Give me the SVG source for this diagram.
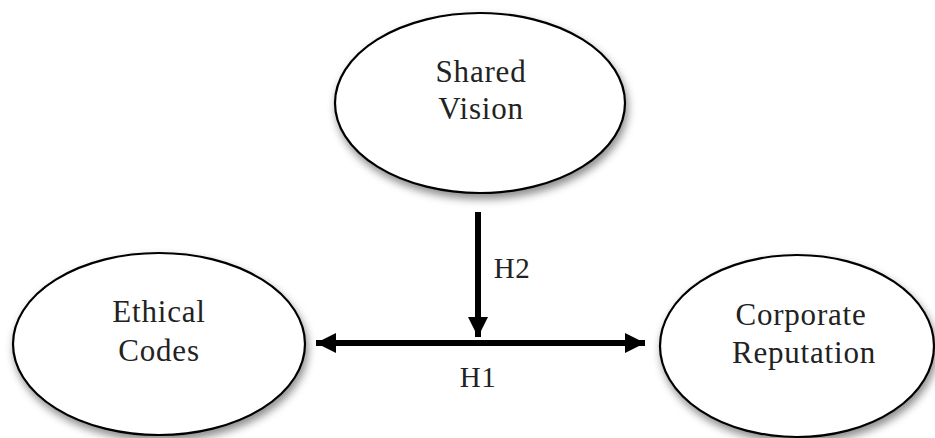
<svg xmlns="http://www.w3.org/2000/svg" width="935" height="438" viewBox="0 0 935 438">
<style>
.node ellipse{fill:#fff;stroke:#000;stroke-width:2.2;filter:url(#sh)}
.lbl{font-family:"Liberation Serif","Times New Roman",serif;font-size:31px;letter-spacing:0.8px;fill:#222;text-anchor:middle}
.hl{font-family:"Liberation Serif","Times New Roman",serif;font-size:29px;letter-spacing:0.5px;fill:#222;text-anchor:middle}
.conn line{stroke:#000;stroke-width:6}
</style>
<defs>
<filter id="sh" x="-20%" y="-20%" width="140%" height="150%">
<feDropShadow dx="2" dy="5" stdDeviation="4" flood-color="#000" flood-opacity="0.45"/>
</filter>
<marker id="ah" viewBox="0 0 10 10" refX="10" refY="5" markerWidth="3.4" markerHeight="3.4" markerUnits="strokeWidth" orient="auto-start-reverse">
<path d="M0,0 L10,5 L0,10 Z" fill="#000"/>
</marker>
</defs>
<rect width="935" height="438" fill="#fff"/>
<g id="shared-vision" class="node">
<ellipse cx="480" cy="103" rx="145" ry="90"/>
<text class="lbl" x="481" y="82">Shared</text>
<text class="lbl" x="481" y="119">Vision</text>
</g>
<g id="ethical-codes" class="node">
<ellipse cx="159" cy="344" rx="146" ry="91"/>
<text class="lbl" x="159" y="322">Ethical</text>
<text class="lbl" x="159" y="361">Codes</text>
</g>
<g id="corporate-reputation" class="node">
<ellipse cx="797" cy="346" rx="137" ry="91"/>
<text class="lbl" x="801" y="325">Corporate</text>
<text class="lbl" x="804" y="363">Reputation</text>
</g>
<g id="connectors" class="conn">
<line x1="478" y1="212" x2="478" y2="337" marker-end="url(#ah)"/>
<line x1="316" y1="343" x2="645" y2="343" marker-start="url(#ah)" marker-end="url(#ah)"/>
<text class="hl" x="512" y="278">H2</text>
<text class="hl" x="478" y="387">H1</text>
</g>
</svg>
